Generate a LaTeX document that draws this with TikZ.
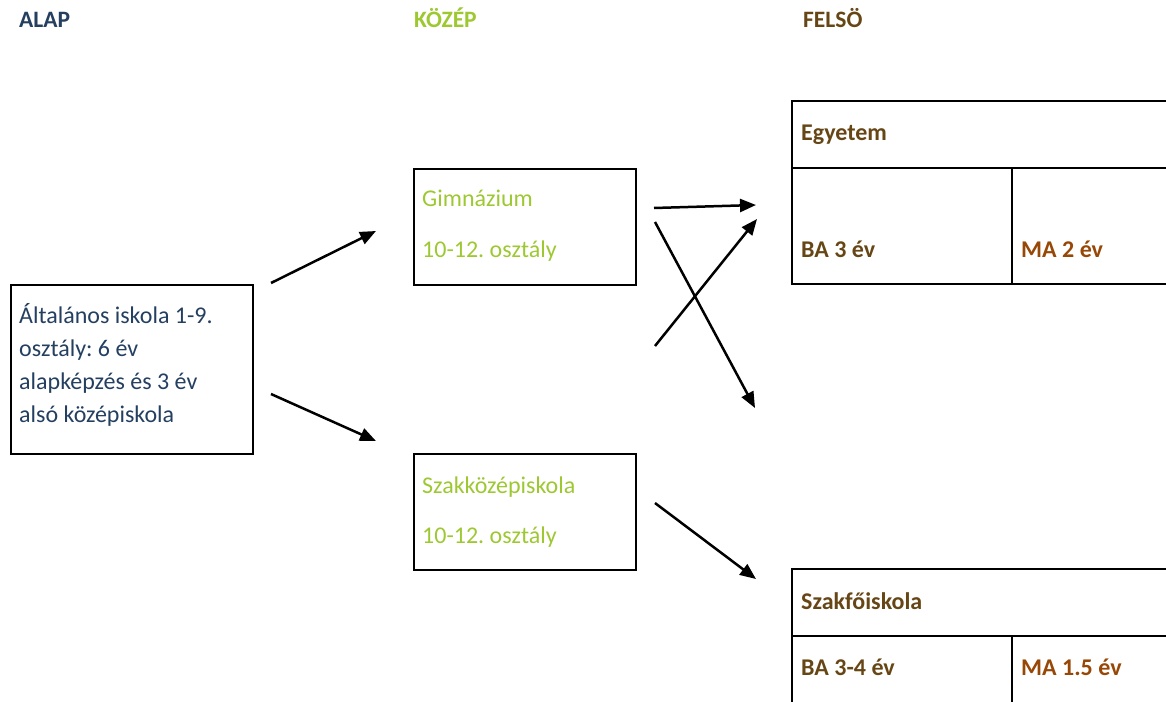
\documentclass[tikz,border=0pt]{standalone}
\usepackage{fontspec}
\setmainfont{Carlito}
\frenchspacing
\usetikzlibrary{arrows.meta}
\definecolor{cblue}{HTML}{243F60}
\definecolor{cgreen}{HTML}{9DC832}
\definecolor{cbrown}{HTML}{674616}
\definecolor{corange}{HTML}{974706}
\tikzset{
  box/.style={draw=black, line width=2pt, inner sep=0pt, anchor=north west},
  tline/.style={draw=black, line width=2.5pt},
  head/.style={font=\fontsize{23.5}{28}\selectfont\bfseries\frenchspacing, anchor=base west, inner sep=0pt},
  txt/.style={font=\fontsize{24}{30}\selectfont\frenchspacing, anchor=base west, inner sep=0pt},
  btxt/.style={font=\fontsize{24}{30}\selectfont\bfseries\frenchspacing, anchor=base west, inner sep=0pt},
  arr/.style={line width=2.5pt, -{Triangle[length=16pt,width=13pt]}}
}
\begin{document}
\begin{tikzpicture}[x=1pt,y=-1pt]
\useasboundingbox (0,0) rectangle (1166,701);
% headings
\node[head, text=cblue] (hA) at (19,28) {ALAP};
\node[head, text=cgreen] (hK) at (414,28) {KÖZÉP};
\node[head, text=cbrown] (hF) at (803,28) {FELSÖ};
% left box
\node[box, minimum width=242pt, minimum height=169pt] (alt) at (10,284) {};
\node[txt, text=cblue] (a1) at (19,323) {Általános iskola 1-9.};
\node[txt, text=cblue] (a2) at (19,356) {osztály: 6 év};
\node[txt, text=cblue] (a3) at (19,389) {alapképzés és 3 év};
\node[txt, text=cblue] (a4) at (19,422) {alsó középiskola};
% middle boxes
\node[box, minimum width=222pt, minimum height=116pt] (gim) at (413,168) {};
\node[txt, text=cgreen] (g1) at (422,206.5) {Gimnázium};
\node[txt, text=cgreen] (g2) at (422,257) {10-12. osztály};
\node[box, minimum width=222pt, minimum height=116pt] (szk) at (413,453) {};
\node[txt, text=cgreen] (s1) at (422,493) {Szakközépiskola};
\node[txt, text=cgreen] (s2) at (422,543.5) {10-12. osztály};
% Egyetem table
\coordinate (e1) at (792,101);
\coordinate (e2) at (1170,168);
\coordinate (e3) at (792,284);
\coordinate (e4) at (1170,284);
\coordinate (ev) at (1012,168);
\coordinate (evb) at (1012,284);
\draw[tline] (1170,101) -- (e1) -- (e3) -- (e4);
\draw[tline] (792,168) -- (e2);
\draw[tline, line width=2pt] (ev) -- (evb);
\node[btxt, text=cbrown] (eg) at (801,140) {Egyetem};
\node[btxt, text=cbrown] (eba) at (801,257) {BA 3 év};
\node[btxt, text=corange] (ema) at (1021,257) {MA 2 év};
% Szakfoiskola table
\coordinate (f1) at (792,569);
\coordinate (f2) at (1170,636);
\coordinate (f3) at (792,705);
\coordinate (fv) at (1012,636);
\coordinate (fvb) at (1012,705);
\draw[tline] (f3) -- (f1) -- (1170,569);
\draw[tline] (792,636) -- (f2);
\draw[tline, line width=2pt] (fv) -- (fvb);
\node[btxt, text=cbrown] (fs) at (801,609) {Szakfőiskola};
\node[btxt, text=cbrown] (fba) at (801,675) {BA 3-4 év};
\node[btxt, text=corange] (fma) at (1021,675) {MA 1.5 év};
% arrow coordinates
\coordinate (p1s) at (271,283); \coordinate (p1e) at (376,231);
\coordinate (p2s) at (271,394); \coordinate (p2e) at (376,441);
\coordinate (p3s) at (654,208); \coordinate (p3e) at (756,205);
\coordinate (p4s) at (655,222); \coordinate (p4e) at (755,408);
\coordinate (p5s) at (655,346); \coordinate (p5e) at (757,219);
\coordinate (p6s) at (655,503); \coordinate (p6e) at (756,579);
\draw[arr] (p1s) -- (p1e);
\draw[arr] (p2s) -- (p2e);
\draw[arr] (p3s) -- (p3e);
\draw[arr] (p4s) -- (p4e);
\draw[arr] (p5s) -- (p5e);
\draw[arr] (p6s) -- (p6e);
\end{tikzpicture}
\end{document}
